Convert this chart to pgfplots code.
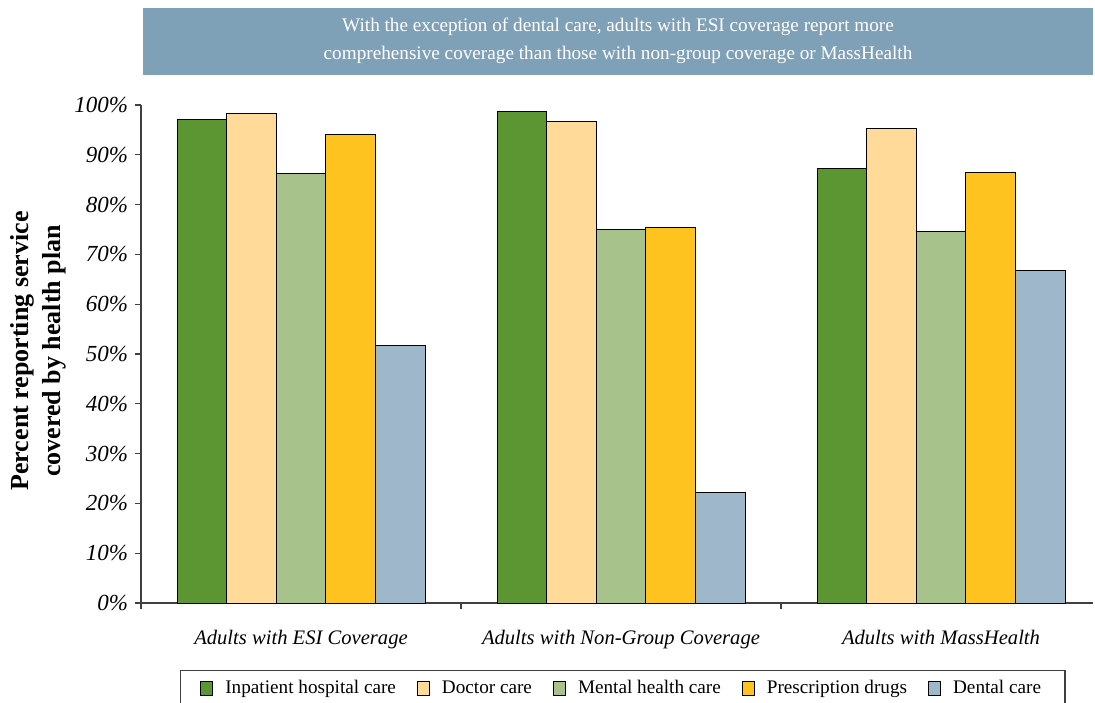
\documentclass[border=0pt]{standalone}
\usepackage{fontspec}
\setmainfont{Liberation Serif}
\usepackage{pgfplots}
\pgfplotsset{compat=1.18}
\definecolor{cInp}{HTML}{5C9632}
\definecolor{cDoc}{HTML}{FFDA99}
\definecolor{cMen}{HTML}{A8C28C}
\definecolor{cPre}{HTML}{FFC320}
\definecolor{cDen}{HTML}{9EB7CB}
\definecolor{banner}{HTML}{7FA1B7}
\definecolor{axisgray}{HTML}{404040}
\begin{document}
\begin{tikzpicture}
\useasboundingbox (0pt,0pt) rectangle (547.5pt,351pt);
\fill[banner] (71.5pt,313.5pt) rectangle (546.5pt,347pt);
\node[white, align=center, font=\fontsize{9.6}{14}\selectfont] at (309pt,330.5pt)
  {With the exception of dental care, adults with ESI coverage report more\\
   comprehensive coverage than those with non-group coverage or MassHealth};
\begin{axis}[
  at={(70.5pt,49.5pt)}, anchor=south west,
  scale only axis, width=476pt, height=249pt,
  xmin=-0.5, xmax=2.475, ymin=0, ymax=100,
  axis x line*=bottom, axis y line*=left,
  axis line style={-, draw=axisgray, line width=0.6pt},
  tick style={draw=axisgray, line width=0.6pt},
  tick align=outside,
  major tick length=3pt,
  ybar=0pt, bar width=0.155,
  ytick={0,10,...,100},
  /pgf/number format/assume math mode=true,
  yticklabel={\pgfmathprintnumber{\tick}\%},
  yticklabel style={font=\fontsize{11.5}{13}\selectfont\itshape},
  xtick={-0.5,0.5,1.5},
  xticklabels={Adults with ESI Coverage, Adults with Non-Group Coverage, Adults with MassHealth},
  xticklabel style={xshift=80pt, yshift=-7pt, font=\fontsize{10.3}{12}\selectfont\itshape},
  ylabel={Percent reporting service\\[1.5pt]covered by health plan},
  ylabel style={at={(axis description cs:-0.1082,0.506)}, anchor=center, align=center,
    font=\fontsize{13}{14.5}\selectfont\bfseries},
  legend columns=5,
  legend style={at={(0.506,-0.1345)}, anchor=north, draw=axisgray, line width=0.6pt,
    font=\fontsize{9.6}{11}\selectfont, inner xsep=10pt, inner ysep=3pt,
    /tikz/every odd column/.append style={column sep=4pt},
    /tikz/every even column/.append style={column sep=8.5pt}},
  legend image code/.code={\draw[#1,draw=black,line width=0.5pt] (0pt,-3.5pt) rectangle (6pt,3.5pt);},
  every axis plot/.append style={draw=black, line width=0.5pt},
]
\addplot[fill=cInp] coordinates {(0,97.0) (1,98.6) (2,87.3)};
\addplot[fill=cDoc] coordinates {(0,98.2) (1,96.6) (2,95.2)};
\addplot[fill=cMen] coordinates {(0,86.3) (1,74.9) (2,74.5)};
\addplot[fill=cPre] coordinates {(0,94.0) (1,75.5) (2,86.5)};
\addplot[fill=cDen] coordinates {(0,51.8) (1,22.1) (2,66.7)};
\legend{Inpatient hospital care, Doctor care, Mental health care, Prescription drugs, Dental care}
\end{axis}
\end{tikzpicture}
\end{document}
